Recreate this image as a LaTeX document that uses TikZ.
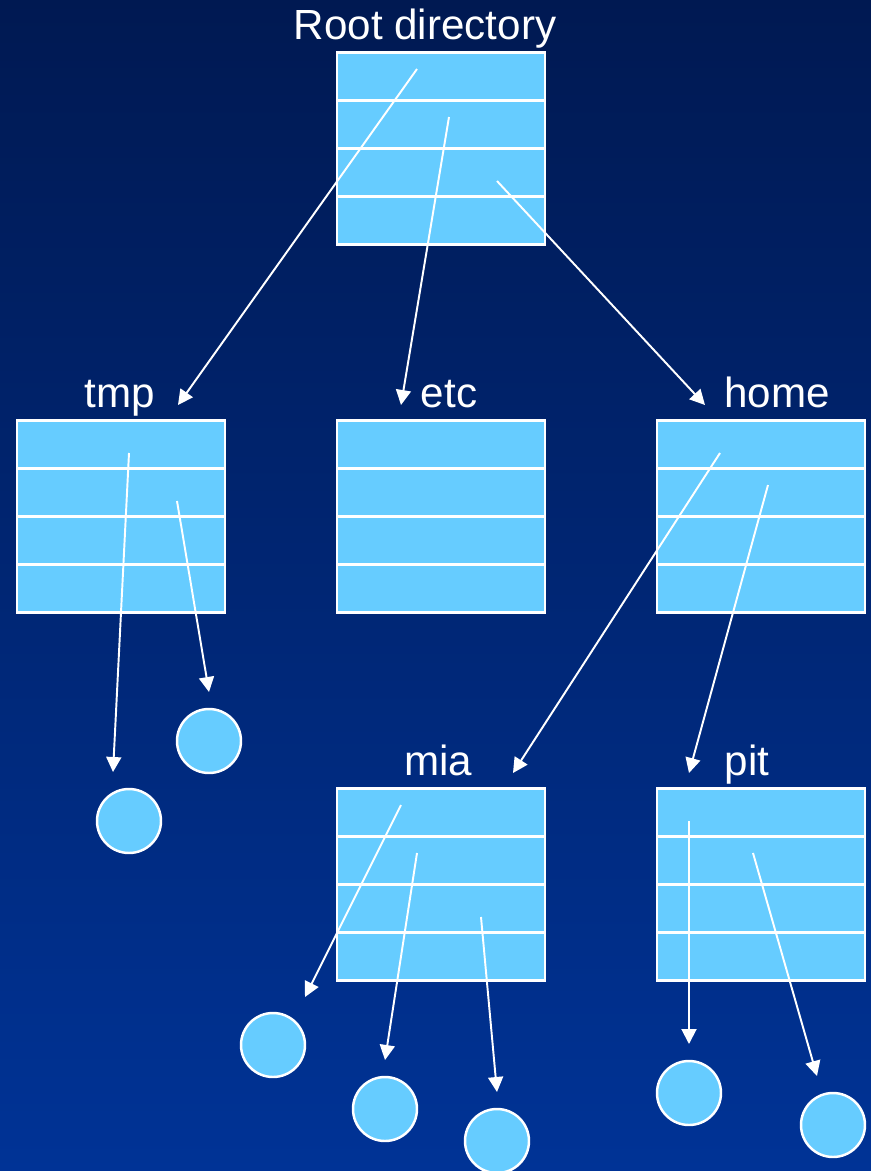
\documentclass[tikz,border=0pt]{standalone}
\usepackage{fontspec}
\setmainfont{Liberation Sans}
\usetikzlibrary{arrows.meta}

\definecolor{bgtop}{RGB}{0,25,82}
\definecolor{bgbot}{RGB}{0,51,150}
\definecolor{slot}{RGB}{102,204,255}

\begin{document}
\begin{tikzpicture}[
  x=0.02cm, y=-0.02cm,
  dir/.style={
    draw=white, line width=1.4pt, fill=slot,
    minimum width=4.16cm, minimum height=3.84cm,
    inner sep=0pt, outer sep=0pt,
    path picture={
      \foreach \k in {1,2,3}
        \draw[white, line width=1.4pt]
          ([yshift=-\k*0.96cm]path picture bounding box.north west) --
          ([yshift=-\k*0.96cm]path picture bounding box.north east);
    },
  },
  file/.style={
    circle, draw=white, line width=1.4pt, fill=slot,
    minimum size=1.28cm, inner sep=0pt,
  },
  lbl/.style={text=white, font=\fontsize{24}{28}\selectfont, anchor=base},
  ptr/.style={draw=white, line width=1.1pt, -{Triangle[length=0.3cm,width=0.3cm]}},
]

% background
\shade[top color=bgtop, bottom color=bgbot] (0,0) rectangle (871,1171);
\useasboundingbox (0,0) rectangle (871,1171);

% directories
\node[dir] (root) at (441,148.5) {};
\node[dir] (tmp)  at (121,516.5) {};
\node[dir] (etc)  at (441,516.5) {};
\node[dir] (home) at (761,516.5) {};
\node[dir] (mia)  at (441,884.5) {};
\node[dir] (pit)  at (761,884.5) {};

\node[lbl] (root-name) at (425,39)  {Root directory};
\node[lbl] (tmp-name)  at (120,407) {tmp};
\node[lbl] (etc-name)  at (449,407) {etc};
\node[lbl] (home-name) at (777,407) {home};
\node[lbl] (mia-name)  at (438,775) {mia};
\node[lbl] (pit-name)  at (747,775) {pit};

% plain files
\node[file] (tf1) at (209,741)  {};
\node[file] (tf2) at (129,821)  {};
\node[file] (mf1) at (273,1045) {};
\node[file] (mf2) at (385,1109) {};
\node[file] (mf3) at (497,1141) {};
\node[file] (pf1) at (689,1093) {};
\node[file] (pf2) at (833,1125) {};

% entries inside the directories
\coordinate (r1) at (417,69);
\coordinate (r2) at (449,117);
\coordinate (r3) at (497,181);
\coordinate (t1) at (129,453);
\coordinate (t2) at (177,501);
\coordinate (h1) at (720,453);
\coordinate (h2) at (768,485);
\coordinate (m1) at (401,805);
\coordinate (m2) at (417,853);
\coordinate (m3) at (481,917);
\coordinate (p1) at (689,821);
\coordinate (p2) at (753,853);

% where the pointers end
\coordinate (to-tmp)  at (178,405);
\coordinate (to-etc)  at (401,405);
\coordinate (to-home) at (705,405);
\coordinate (to-tf1)  at (209,692);
\coordinate (to-tf2)  at (113,772);
\coordinate (to-mia)  at (513,773);
\coordinate (to-pit)  at (689,773);
\coordinate (to-mf1)  at (305,997);
\coordinate (to-mf2)  at (385,1060);
\coordinate (to-mf3)  at (497,1092);
\coordinate (to-pf1)  at (689,1044);
\coordinate (to-pf2)  at (817,1076);

\draw[ptr] (r1) -- (to-tmp);
\draw[ptr] (r2) -- (to-etc);
\draw[ptr] (r3) -- (to-home);
\draw[ptr] (t1) -- (to-tf2);
\draw[ptr] (t2) -- (to-tf1);
\draw[ptr] (h1) -- (to-mia);
\draw[ptr] (h2) -- (to-pit);
\draw[ptr] (m1) -- (to-mf1);
\draw[ptr] (m2) -- (to-mf2);
\draw[ptr] (m3) -- (to-mf3);
\draw[ptr] (p1) -- (to-pf1);
\draw[ptr] (p2) -- (to-pf2);

\end{tikzpicture}
\end{document}
